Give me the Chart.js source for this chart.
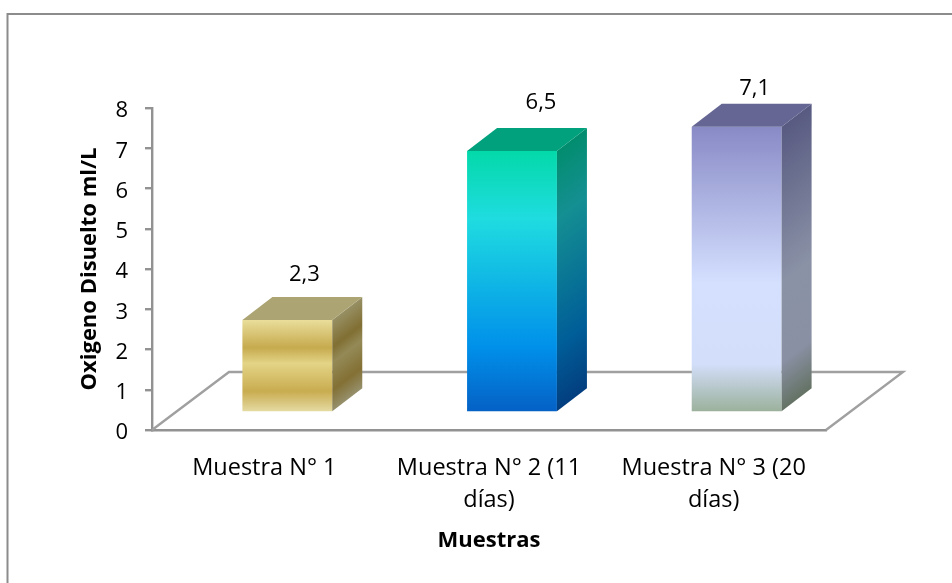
<!DOCTYPE html>
<html>
<head>
<meta charset="utf-8">
<title>Oxigeno Disuelto</title>
<script src="https://cdn.jsdelivr.net/npm/chart.js@4/dist/chart.umd.min.js"></script>
<style>
html, body { margin: 0; padding: 0; background: #fff; }
#wrap { width: 952px; height: 583px; }
</style>
</head>
<body>
<div id="wrap"><canvas id="chart" width="952" height="583"></canvas></div>
<script>
const categories = ["Muestra N° 1", ["Muestra N° 2 (11", "días)"], ["Muestra N° 3 (20", "días)"]];
const values = [2.3, 6.5, 7.1];
const yTicks = [0, 1, 2, 3, 4, 5, 6, 7, 8];
const xTitle = "Muestras";
const yTitle = "Oxigeno Disuelto ml/L";

/* Colour stops of the front faces, top to bottom */
const barStops = [
    [[0, "#E9DE9B"], [0.3, "#C6AA4E"], [0.47, "#E3D486"], [0.77, "#C9AC50"], [1, "#E6DDA6"]],
    [[0, "#03D9A9"], [0.26, "#1FDCE0"], [0.75, "#0090EA"], [1, "#0560C4"]],
    [[0, "#888AC6"], [0.55, "#D5E0FF"], [0.83, "#D3DEFA"], [1, "#9AB09A"]]
];

const FONT = "'Open Sans', sans-serif";
const AXIS_GRAY = "#929292";

// the bars stand back from the front of the floor
const BAR_DX = 23;
const BAR_DY = -17.5;
// depth of one bar and of the whole floor
const DEPTH_X = 30;
const DEPTH_Y = -23;
const FLOOR_X = 77;
const FLOOR_Y = -58;
// nudges of the value labels from the top of each bar
const labelNudge = [[17, -45], [29, -48], [18, -38]];

function shade(hex, factor) {
    const n = parseInt(hex.slice(1), 16);
    const r = Math.round(((n >> 16) & 255) * factor);
    const g = Math.round(((n >> 8) & 255) * factor);
    const b = Math.round((n & 255) * factor);
    return "rgb(" + r + "," + g + "," + b + ")";
}

function makeGradient(ctx, y0, y1, stops, factor) {
    const g = ctx.createLinearGradient(0, y0, 0, y1);
    stops.forEach(s => g.addColorStop(s[0], shade(s[1], factor)));
    return g;
}

function frontColor(context) {
    const chart = context.chart;
    if (!chart.chartArea || context.dataIndex === undefined) {
        return "#888";
    }
    const y = chart.scales.y;
    const top = y.getPixelForValue(values[context.dataIndex]);
    return makeGradient(chart.ctx, top, y.getPixelForValue(0), barStops[context.dataIndex], 1);
}

/* Frame, floor, bar depth and the value labels */
const box3d = {
    id: "box3d",
    beforeDraw(chart) {
        const ctx = chart.ctx;
        // the frame only shows on the top and left, the rest is cropped away
        ctx.save();
        ctx.strokeStyle = "#8C8C8C";
        ctx.lineWidth = 2;
        ctx.beginPath();
        ctx.moveTo(7.5, chart.height);
        ctx.lineTo(7.5, 14);
        ctx.lineTo(chart.width, 14);
        ctx.stroke();
        ctx.restore();
    },
    beforeDatasetsDraw(chart) {
        const ctx = chart.ctx;
        const a = chart.chartArea;
        ctx.save();
        ctx.strokeStyle = "#A0A0A0";
        ctx.lineWidth = 2.4;
        ctx.beginPath();
        ctx.moveTo(a.left, a.bottom);
        ctx.lineTo(a.left + FLOOR_X, a.bottom + FLOOR_Y);
        ctx.lineTo(a.right + FLOOR_X, a.bottom + FLOOR_Y);
        ctx.lineTo(a.right, a.bottom);
        ctx.stroke();
        ctx.restore();
        ctx.save();
        ctx.translate(BAR_DX, BAR_DY);
    },
    afterDatasetsDraw(chart) {
        const ctx = chart.ctx;
        const bars = chart.getDatasetMeta(0).data;
        bars.forEach((bar, i) => {
            const left = bar.x - bar.width / 2;
            const right = bar.x + bar.width / 2;
            const h = bar.base - bar.y;
            // side face, sheared so the bands run along the depth
            ctx.save();
            ctx.transform(1, DEPTH_Y / DEPTH_X, 0, 1, right, bar.y);
            ctx.fillStyle = makeGradient(ctx, 0, h, barStops[i], 0.65);
            ctx.fillRect(0, 0, DEPTH_X, h);
            ctx.restore();
            // top face
            ctx.fillStyle = shade(barStops[i][0][1], 0.74);
            ctx.beginPath();
            ctx.moveTo(left, bar.y);
            ctx.lineTo(right, bar.y);
            ctx.lineTo(right + DEPTH_X, bar.y + DEPTH_Y);
            ctx.lineTo(left + DEPTH_X, bar.y + DEPTH_Y);
            ctx.closePath();
            ctx.fill();
        });
        ctx.restore();

        ctx.save();
        ctx.fillStyle = "#000";
        ctx.textAlign = "center";
        ctx.textBaseline = "middle";
        ctx.font = "22px " + FONT;
        bars.forEach((bar, i) => {
            const label = String(values[i]).replace(".", ",");
            ctx.fillText(label, bar.x + BAR_DX + labelNudge[i][0], bar.y + BAR_DY + labelNudge[i][1]);
        });
        ctx.restore();
    }
};

new Chart(document.getElementById("chart"), {
    type: "bar",
    data: {
        labels: categories,
        datasets: [{
            data: values,
            backgroundColor: frontColor,
            borderWidth: 0,
            categoryPercentage: 1,
            barPercentage: 0.4,
            clip: false
        }]
    },
    plugins: [box3d],
    options: {
        responsive: false,
        animation: false,
        layout: { padding: { left: 0, right: 126, top: 108, bottom: 0 } },
        plugins: {
            legend: { display: false },
            tooltip: { enabled: false }
        },
        scales: {
            x: {
                afterFit(scale) { scale.height = 153; },
                grid: { display: false },
                border: { display: true, color: AXIS_GRAY, width: 2.4 },
                ticks: {
                    color: "#000",
                    font: { family: FONT, size: 23.5, lineHeight: 1.36 },
                    padding: 14,
                    maxRotation: 0,
                    autoSkip: false
                },
                title: {
                    display: true,
                    text: xTitle,
                    color: "#000",
                    font: { family: FONT, size: 22, weight: "bold" },
                    padding: { top: 8, bottom: 29 }
                }
            },
            y: {
                min: 0,
                max: 8,
                afterFit(scale) { scale.width = 152; },
                afterBuildTicks(scale) { scale.ticks = yTicks.map(v => ({ value: v })); },
                grid: {
                    drawOnChartArea: false,
                    color: AXIS_GRAY,
                    lineWidth: 2.4,
                    tickLength: 7
                },
                border: { display: true, color: AXIS_GRAY, width: 2.4 },
                ticks: {
                    color: "#000",
                    font: { family: FONT, size: 22 },
                    padding: 17,
                    labelOffset: 3
                },
                title: {
                    display: true,
                    text: yTitle,
                    color: "#000",
                    font: { family: FONT, size: 22, weight: "bold" },
                    padding: { top: 77, bottom: 0 }
                }
            }
        }
    }
});
</script>
</body>
</html>
